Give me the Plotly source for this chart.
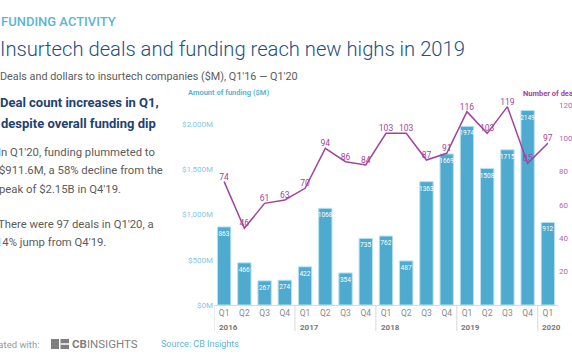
import plotly.graph_objects as go

# ---------------- data ----------------
quarter_labels = ["Q1", "Q2", "Q3", "Q4", "Q1", "Q2", "Q3", "Q4", "Q1", "Q2", "Q3", "Q4",
                  "Q1", "Q2", "Q3", "Q4", "Q1"]
period_years = ["2016"] * 4 + ["2017"] * 4 + ["2018"] * 4 + ["2019"] * 4 + ["2020"]
funding = [863, 466, 267, 274, 422, 1068, 354, 735, 762, 487, 1363, 1669, 1974, 1508, 1715, 2149, 912]
deals = [74, 46, 61, 63, 70, 94, 86, 84, 103, 103, 87, 91, 116, 103, 119, 85, 97]
funding_ticks = [0, 500, 1000, 1500, 2000]
funding_tick_text = ["$0M", "$500M", "$1,000M", "$1,500M", "$2,000M"]
deal_ticks = [20, 40, 60, 80, 100, 120]

categories = [f"{q}'{y[2:]}" for q, y in zip(quarter_labels, period_years)]

W, H = 572, 364
FONT = "Roboto"
BAR = "#4eabcf"
PURPLE = "#a2449c"
NAVY = "#24507f"
GRAY = "#5b5b5b"
LIGHTBLUE = "#5cb5d8"


def px(x):
    return x / W


def py(y):
    return 1 - y / H


fig = go.Figure()

fig.add_trace(go.Bar(
    x=categories, y=funding,
    marker=dict(color=BAR, line=dict(color="#b9e1ef", width=1)),
    width=0.66,
    text=[str(v) for v in funding],
    textposition="inside", insidetextanchor="end", textangle=0,
    textfont=dict(family=FONT, size=6.5, color="white"),
    cliponaxis=False,
    yaxis="y",
))

fig.add_trace(go.Scatter(
    x=categories, y=deals,
    mode="lines+text",
    line=dict(color=PURPLE, width=1.5),
    text=[str(v) for v in deals],
    textposition="top center",
    textfont=dict(family=FONT, size=8.5, color=PURPLE),
    cliponaxis=False,
    yaxis="y2",
))

shapes = []
annotations = []

# year dividers and labels
for i, yr in enumerate(period_years):
    if i == 0 or yr != period_years[i - 1]:
        shapes.append(dict(type="line", xref="x", yref="paper",
                           x0=i - 0.5, x1=i - 0.5, y0=py(305), y1=py(331),
                           line=dict(color="#d9d9d9", width=1)))
        annotations.append(dict(x=categories[i], xref="x", y=py(327), yref="paper",
                                text=f"<b>{yr}</b>", showarrow=False, xshift=4,
                                font=dict(family=FONT, size=8, color="#777777"),
                                xanchor="center", yanchor="middle"))


def note(text, x, y, size, color, anchor="left", bold=False, weight=None):
    f = dict(family=FONT, size=size, color=color)
    if weight:
        f["weight"] = weight
    annotations.append(dict(x=px(x), y=py(y), xref="paper", yref="paper",
                            text=f"<b>{text}</b>" if bold else text,
                            showarrow=False, xanchor=anchor, yanchor="middle",
                            font=f))


# header
note("FUNDING ACTIVITY", -1, 21, 13, LIGHTBLUE, weight=500)
note("Insurtech deals and funding reach new highs in 2019", -2, 49, 20.2, NAVY, weight=300)
note("Deals and dollars to insurtech companies ($M), Q1'16 — Q1'20", -2, 76, 10.8, GRAY)

# left panel
note("Deal count increases in Q1,", -2, 102, 13, "#1f4270", bold=True)
note("despite overall funding dip", -1, 123, 13, "#1f4270", bold=True)
note("In Q1'20, funding plummeted to", -4, 152, 11.3, GRAY)
note("$911.6M, a 58% decline from the", -3, 170, 11.3, GRAY)
note("peak of $2.15B in Q4'19.", -3, 189, 11.3, GRAY)
note("There were 97 deals in Q1'20, a", -4, 224, 11.3, GRAY)
note("14% jump from Q4'19.", -6, 243, 11.3, GRAY)

# axis titles
note("Amount of funding ($M)", 186, 92, 7.5, LIGHTBLUE, bold=True)
note("Number of deals", 521, 94, 7.5, PURPLE, bold=True)

# footer
note("Created with:", 41, 344, 9.5, "#999999", anchor="right")
note("<b>CB</b>INSIGHTS", 70, 344, 11.5, "#7f7f7f")
note("Source: CB Insights", 159, 344, 9, LIGHTBLUE)

# logo icon
shapes.append(dict(type="rect", xref="paper", yref="paper",
                   x0=px(51), x1=px(59), y0=py(349), y1=py(339),
                   fillcolor="#7f7f7f", line=dict(width=0)))
shapes.append(dict(type="rect", xref="paper", yref="paper",
                   x0=px(60.5), x1=px(69), y0=py(349), y1=py(339),
                   fillcolor="#7f7f7f", line=dict(width=0)))
shapes.append(dict(type="line", xref="paper", yref="paper",
                   x0=px(60.5), x1=px(69), y0=py(344), y1=py(344),
                   line=dict(color="white", width=1.5)))

fig.update_layout(
    width=W, height=H, autosize=False,
    margin=dict(l=0, r=0, t=0, b=0, autoexpand=False),
    paper_bgcolor="white", plot_bgcolor="white",
    showlegend=False,
    font=dict(family=FONT),
    xaxis=dict(
        domain=[px(214), px(558)],
        type="category", automargin=False,
        range=[-0.5, len(categories) - 0.5],
        tickmode="array", tickvals=categories, ticktext=quarter_labels,
        tickfont=dict(family=FONT, size=8.5, color="#8a8a8a"),
        showline=True, linecolor="#d9d9d9", linewidth=1,
        ticks="", showgrid=False, zeroline=False,
    ),
    yaxis=dict(
        domain=[py(305), py(105)], automargin=False,
        range=[0, 2210],
        tickmode="array", tickvals=funding_ticks, ticktext=funding_tick_text,
        tickfont=dict(family=FONT, size=8, color="#84c8e2"),
        showgrid=False, zeroline=False, showline=False, ticks="",
    ),
    yaxis2=dict(
        overlaying="y", side="right", automargin=False,
        range=[0, 120],
        tickmode="array", tickvals=deal_ticks,
        tickfont=dict(family=FONT, size=8, color="#b866b0"),
        showgrid=False, zeroline=False, showline=False, ticks="",
    ),
    shapes=shapes,
    annotations=annotations,
    uniformtext=dict(minsize=6.5, mode="show"),
)

fig.write_html("out.html", config={"displayModeBar": False},
               post_script="document.body.style.margin='0';document.body.style.overflow='hidden';")
